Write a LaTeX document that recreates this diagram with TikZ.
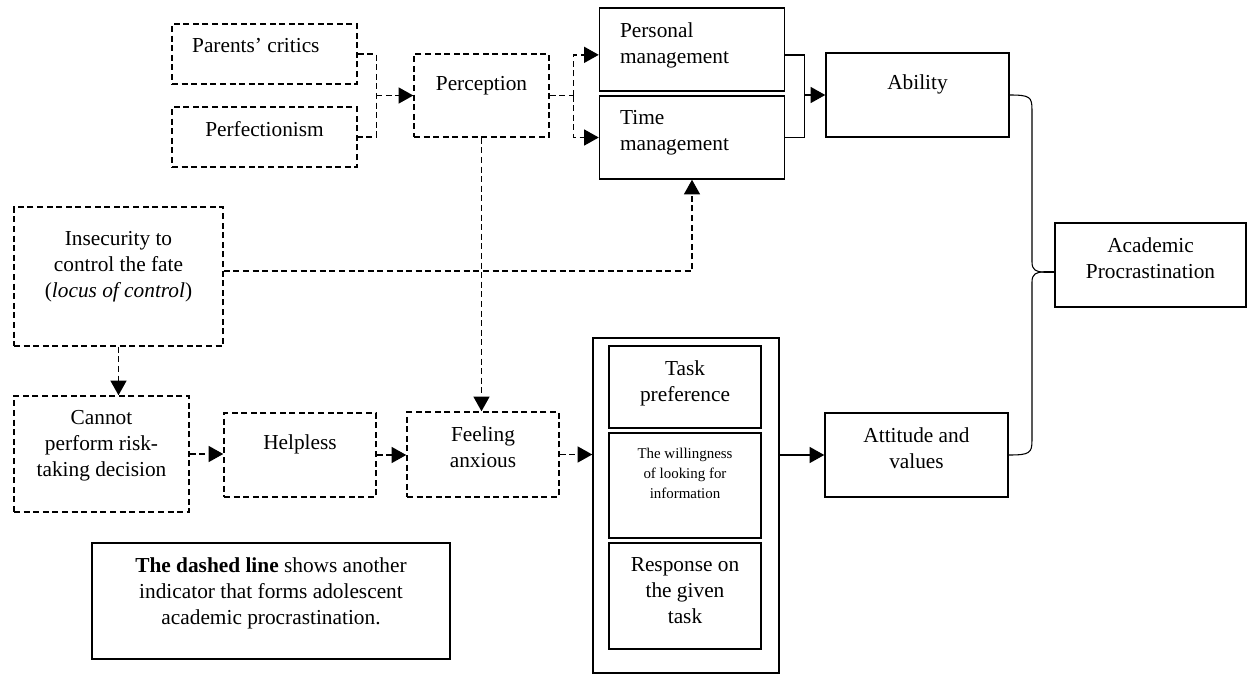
\documentclass[tikz,border=0pt]{standalone}
\usepackage{fontspec}
\setmainfont{Liberation Serif}
\usetikzlibrary{arrows.meta,positioning}

\tikzstyle{solidbox} = [draw, line width=1.1pt, inner sep=0pt]
\tikzstyle{dashbox} = [draw, line width=1.1pt, dash pattern=on 4.5pt off 2.7pt, inner sep=0pt]

\begin{document}
\begin{tikzpicture}[x=0.75pt, y=-0.75pt,
			font=\fontsize{16}{19.5}\selectfont,
			txt/.style={label={[anchor=north, inner sep=0pt, yshift=-11.5pt, align=center]north:{#1}}},
			lowtxt/.style={label={[anchor=north, inner sep=0pt, yshift=-16.8pt, align=center]north:{#1}}},
			lefttxt/.style={label={[anchor=north west, inner sep=0pt, xshift=15.75pt, yshift=-11pt, align=left]north west:{#1}}},
			dashline/.style={line width=1.1pt, dash pattern=on 4.5pt off 2.7pt},
			dasharrow/.style={dashline, -{Triangle[length=11pt,width=12pt]}},
			solidarrow/.style={line width=1.1pt, -{Triangle[length=11pt,width=12pt]}},
			brace/.style={line width=0.8pt}]
			\useasboundingbox (0,0) rectangle (1247,675);
			
			% upper row
			\node[dashbox, minimum width=138.75pt, minimum height=45pt, label={[anchor=north, inner sep=0pt, xshift=-6.5pt, yshift=-11pt]north:{Parents’ critics}}] (parents) at (264.5,54) {};
			\node[dashbox, minimum width=138.75pt, minimum height=45pt, txt={Perfectionism}] (perfection) at (264.5,137) {};
			\node[dashbox, minimum width=101.25pt, minimum height=62.25pt, lowtxt={Perception}] (perception) at (481.5,95.5) {};
			\node[solidbox, minimum width=138.75pt, minimum height=62.25pt, lefttxt={Personal\\management}] (personal) at (692,49.5) {};
			\node[solidbox, minimum width=138.75pt, minimum height=62.25pt, lefttxt={Time\\management}] (time) at (692,137.5) {};
			\node[solidbox, minimum width=137.25pt, minimum height=63pt, lowtxt={Ability}] (ability) at (917.5,95) {};
			\node[solidbox, minimum width=143.25pt, minimum height=63pt, txt={Academic\\Procrastination}] (academic) at (1150.5,265) {};
			
			% lower row
			\node[dashbox, minimum width=156.75pt, minimum height=104.25pt, label={[anchor=north, inner sep=0pt, yshift=-18.3pt, align=center]north:{Insecurity to\\control the fate\\(\textit{locus of control})}}] (insecurity) at (118.5,276.5) {};
			\node[dashbox, minimum width=131.25pt, minimum height=87pt, txt={Cannot\\perform risk-\\taking decision}] (cannot) at (101.5,454) {};
			\node[dashbox, minimum width=114pt, minimum height=63pt, lowtxt={Helpless}] (helpless) at (300,455) {};
			\node[dashbox, minimum width=114pt, minimum height=63.75pt, txt={Feeling\\anxious}] (feeling) at (483,454.5) {};
			\node[solidbox, minimum width=139.5pt, minimum height=251.25pt] (taskgroup) at (686,505.5) {};
			\node[solidbox, minimum width=114pt, minimum height=61.5pt, txt={Task\\preference}] (task) at (685,387) {};
			\node[solidbox, minimum width=114pt, minimum height=78.75pt, label={[anchor=north, inner sep=0pt, yshift=-11.4pt, align=center, font=\fontsize{11.2}{15}\selectfont]north:{The willingness\\of looking for\\information}}] (willing) at (685,485.5) {};
			\node[solidbox, minimum width=114pt, minimum height=79.5pt, txt={Response on\\the given\\task}] (response) at (685,596) {};
			\node[solidbox, minimum width=137.25pt, minimum height=63pt, txt={Attitude and\\values}] (attitude) at (916.5,455) {};
			\node[solidbox, minimum width=268.5pt, minimum height=87pt, txt={\textbf{The dashed line} shows another\\indicator that forms adolescent\\academic procrastination.}] (legend) at (271,601) {};
			
			% dashed links
			\coordinate[left=27.75pt of perception.west] (pj);
			\draw[dashline] (parents.east) -| (pj) |- (perfection.east);
			\draw[dasharrow] (pj) -- (perception.west);
			\coordinate[right=18pt of perception.east] (mj);
			\draw[dashline] (perception.east) -- (mj);
			\draw[dasharrow] (mj) |- ([yshift=-4pt]personal.west);
			\draw[dasharrow] (mj) |- (time.west);
			\draw[dasharrow] ([yshift=4pt]insecurity.east) -| (time.south);
			\draw[dasharrow] (perception.south) -- (perception.south |- feeling.north);
			\draw[dasharrow] (insecurity.south) -- (insecurity.south |- cannot.north);
			\draw[dasharrow] (cannot.east) -- (cannot.east -| helpless.west);
			\draw[dasharrow] (helpless.east) -- (helpless.east -| feeling.west);
			\draw[dasharrow] (feeling.east) -- (feeling.east -| taskgroup.west);
			
			% solid links
			\coordinate[left=15.75pt of ability.west] (aj);
			\draw[line width=1.1pt] ([yshift=-4pt]personal.east) -| (aj) |- (time.east);
			\draw[solidarrow] (aj) -- (ability.west);
			\draw[solidarrow] (taskgroup.east |- attitude.west) -- (attitude.west);
			
			% brace
			\coordinate (tip) at (1044,272);
			\draw[brace] (ability.east) .. controls (1030,95) and (1032,97) .. (1032,110) -- (1032,262) .. controls (1032,270) and (1036,272) .. (tip);
			\draw[brace] (tip) .. controls (1036,272) and (1032,274) .. (1032,282) -- (1032,440) .. controls (1032,453) and (1030,455) .. (attitude.east);
			\draw[line width=1.1pt] (tip) -- (tip -| academic.west);
		\end{tikzpicture}
\end{document}
